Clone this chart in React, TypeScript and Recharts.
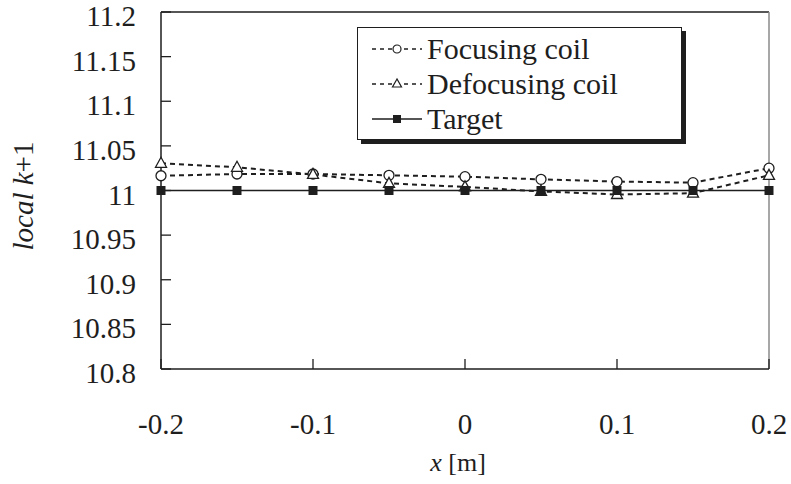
import React from 'react';
import { LineChart, Line, XAxis, YAxis, Legend, ReferenceLine } from 'recharts';

const xValues = [-0.2, -0.15, -0.1, -0.05, 0, 0.05, 0.1, 0.15, 0.2];
const focusingCoil = [11.0165, 11.0185, 11.0185, 11.017, 11.0155, 11.0125, 11.01, 11.0088, 11.025];
const defocusingCoil = [11.0305, 11.026, 11.018, 11.008, 11.004, 10.999, 10.9955, 10.997, 11.017];
const target = [11, 11, 11, 11, 11, 11, 11, 11, 11];

const xTicks = [-0.2, -0.1, 0, 0.1, 0.2];
const yTicks = [10.8, 10.85, 10.9, 10.95, 11, 11.05, 11.1, 11.15, 11.2];

const seriesNames = ['Focusing coil', 'Defocusing coil', 'Target'];

const data = xValues.map((x, i) => ({
  x,
  focusing: focusingCoil[i],
  defocusing: defocusingCoil[i],
  target: target[i],
}));

const FONT = 'Liberation Serif, Times New Roman, serif';
const INK = '#1e1e1e';
const textStyle = { fontFamily: FONT };

const CircleDot = ({ cx, cy }: any) => (
  <circle cx={cx} cy={cy} r={5} fill="#fff" stroke={INK} strokeWidth={1.3} />
);

const TriangleDot = ({ cx, cy }: any) => (
  <polygon
    points={`${cx},${cy - 6} ${cx - 5.5},${cy + 4} ${cx + 5.5},${cy + 4}`}
    fill="#fff"
    stroke={INK}
    strokeWidth={1.3}
  />
);

const SquareDot = ({ cx, cy }: any) => <rect x={cx - 4.5} y={cy - 4.5} width={9} height={9} fill={INK} />;

const YTick = ({ x, y, payload }: any) => (
  <g>
    <line x1={x} x2={x + 10} y1={y} y2={y} stroke={INK} strokeWidth={1.3} />
    <text x={x - 25} y={y + 14} textAnchor="end" fontSize={29} style={textStyle} fill={INK}>
      {String(payload.value)}
    </text>
  </g>
);

const XTick = ({ x, y, payload }: any) => (
  <g>
    <line x1={x} x2={x} y1={y} y2={y - 10} stroke={INK} strokeWidth={1.3} />
    <text x={x} y={y + 65} textAnchor="middle" fontSize={29} style={textStyle} fill={INK}>
      {String(payload.value)}
    </text>
  </g>
);

const LegendIcon = ({ kind }: { kind: number }) => (
  <svg width={50} height={16} style={{ display: 'block' }}>
    <line
      x1={0}
      x2={50}
      y1={8}
      y2={8}
      stroke={INK}
      strokeWidth={kind === 2 ? 1.5 : 1.6}
      strokeDasharray={kind === 2 ? undefined : '4 4'}
    />
    {kind === 0 && <circle cx={25} cy={8} r={4} fill="#fff" stroke={INK} strokeWidth={1.2} />}
    {kind === 1 && <polygon points="25,3 20.5,11 29.5,11" fill="#fff" stroke={INK} strokeWidth={1.2} />}
    {kind === 2 && <rect x={21} y={4} width={8} height={8} fill={INK} />}
  </svg>
);

const LegendBox = () => (
  <div
    style={{
      width: 325,
      height: 113,
      border: `1.5px solid ${INK}`,
      boxShadow: `4px 4px 0 ${INK}`,
      background: '#fff',
      boxSizing: 'border-box',
      paddingTop: 3,
      fontFamily: FONT,
      color: INK,
    }}
  >
    {seriesNames.map((name, i) => (
      <div key={name} style={{ display: 'flex', alignItems: 'center', height: 35, paddingLeft: 14 }}>
        <LegendIcon kind={i} />
        <span style={{ fontSize: 30, marginLeft: 5, lineHeight: '35px', fontFamily: FONT }}>{name}</span>
      </div>
    ))}
  </div>
);

export default function App() {
  return (
    <div
      style={{
        position: 'absolute',
        left: 0,
        top: 0,
        width: 791,
        height: 484,
        background: '#fff',
        fontFamily: FONT,
      }}
    >
      <LineChart width={791} height={484} data={data} margin={{ top: 12, right: 22, bottom: 0, left: 1 }}>
        <XAxis
          type="number"
          dataKey="x"
          domain={[-0.2, 0.2]}
          ticks={xTicks}
          tickSize={0}
          tickMargin={0}
          tickLine={false}
          axisLine={{ stroke: INK, strokeWidth: 1.5 }}
          tick={<XTick />}
          height={115}
          interval={0}
          label={{
            content: () => (
              <text x={458} y={471} textAnchor="middle" fontSize={26} style={textStyle} fill={INK}>
                <tspan fontStyle="italic">x</tspan>
                <tspan> [m]</tspan>
              </text>
            ),
          }}
        />
        <YAxis
          type="number"
          domain={[10.8, 11.2]}
          ticks={yTicks}
          width={160}
          tickSize={0}
          tickMargin={0}
          tickLine={false}
          axisLine={{ stroke: INK, strokeWidth: 1.5 }}
          tick={<YTick />}
          interval={0}
          label={{
            content: () => (
              <text
                x={33}
                y={196}
                transform="rotate(-90, 33, 196)"
                textAnchor="middle"
                fontSize={29}
                style={textStyle}
                fill={INK}
              >
                <tspan fontStyle="italic">local k</tspan>
                <tspan>+1</tspan>
              </text>
            ),
          }}
        />
        <ReferenceLine y={11.2} stroke={INK} strokeWidth={1.5} />
        <ReferenceLine x={0.2} stroke="#8a8a8a" strokeWidth={1.5} />
        <ReferenceLine y={11} stroke={INK} strokeWidth={1} />
        <Line
          dataKey="focusing"
          stroke={INK}
          strokeWidth={2}
          strokeDasharray="5 4"
          dot={<CircleDot />}
          isAnimationActive={false}
        />
        <Line
          dataKey="defocusing"
          stroke={INK}
          strokeWidth={2}
          strokeDasharray="5 4"
          dot={<TriangleDot />}
          isAnimationActive={false}
        />
        <Line dataKey="target" stroke={INK} strokeWidth={1.5} dot={<SquareDot />} isAnimationActive={false} />
        <Legend
          layout="vertical"
          align="center"
          verticalAlign="middle"
          content={<LegendBox />}
          wrapperStyle={{ position: 'absolute', left: 357, top: 27, width: 330, height: 120 }}
        />
      </LineChart>
    </div>
  );
}
